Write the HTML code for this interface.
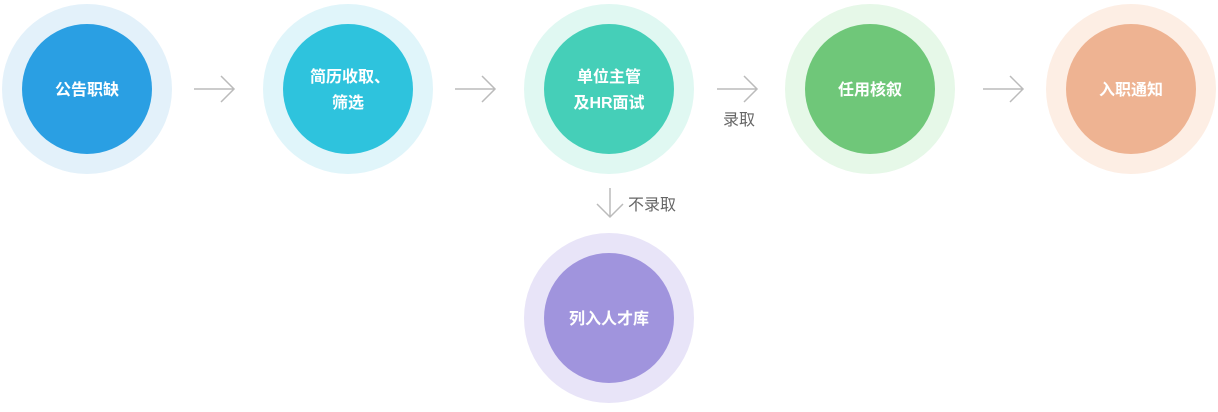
<!DOCTYPE html>
<html><head><meta charset="utf-8"><style>
body{margin:0;width:1218px;height:407px;background:#fff;overflow:hidden}
svg text{font-family:"Liberation Sans","Noto Sans CJK SC",sans-serif}
</style></head><body>
<svg width="1218" height="407" xmlns="http://www.w3.org/2000/svg">
<g>
<circle cx="87" cy="89" r="85" fill="#e3f1fa"/><circle cx="87" cy="89" r="65" fill="#2a9fe3"/>
<circle cx="348" cy="89" r="85" fill="#e0f5fa"/><circle cx="348" cy="89" r="65" fill="#2ec3dd"/>
<circle cx="609" cy="89" r="85" fill="#e0f8f2"/><circle cx="609" cy="89" r="65" fill="#45cfb8"/>
<circle cx="870" cy="89" r="85" fill="#e6f8e8"/><circle cx="870" cy="89" r="65" fill="#6fc779"/>
<circle cx="1131" cy="89" r="85" fill="#fdeee4"/><circle cx="1131" cy="89" r="65" fill="#eeb392"/>
<circle cx="609" cy="318" r="85" fill="#e8e4f8"/><circle cx="609" cy="318" r="65" fill="#a094dd"/>
</g>
<g fill="#fff" font-size="16" font-weight="bold" text-anchor="middle">
<text x="87" y="95">公告职缺</text>
<text x="350" y="82">简历收取、</text><text x="348" y="108">筛选</text>
<text x="609" y="82">单位主管</text><text x="609" y="108">及HR面试</text>
<text x="870" y="95">任用核叙</text>
<text x="1131" y="95">入职通知</text>
<text x="609" y="324">列入人才库</text>
</g>
<g stroke="#bbb" stroke-width="1.5" fill="none">
<path d="M194 89H234M221 76L234 89L221 102"/>
<path d="M455 89H495M482 76L495 89L482 102"/>
<path d="M717 89H757M744 76L757 89L744 102"/>
<path d="M983 89H1023M1010 76L1023 89L1010 102"/>
<path d="M610 188V217M597 204L610 217L623 204"/>
</g>
<g fill="#666" font-size="16">
<text x="723" y="125">录取</text>
<text x="628" y="210">不录取</text>
</g>
</svg>
</body></html>
